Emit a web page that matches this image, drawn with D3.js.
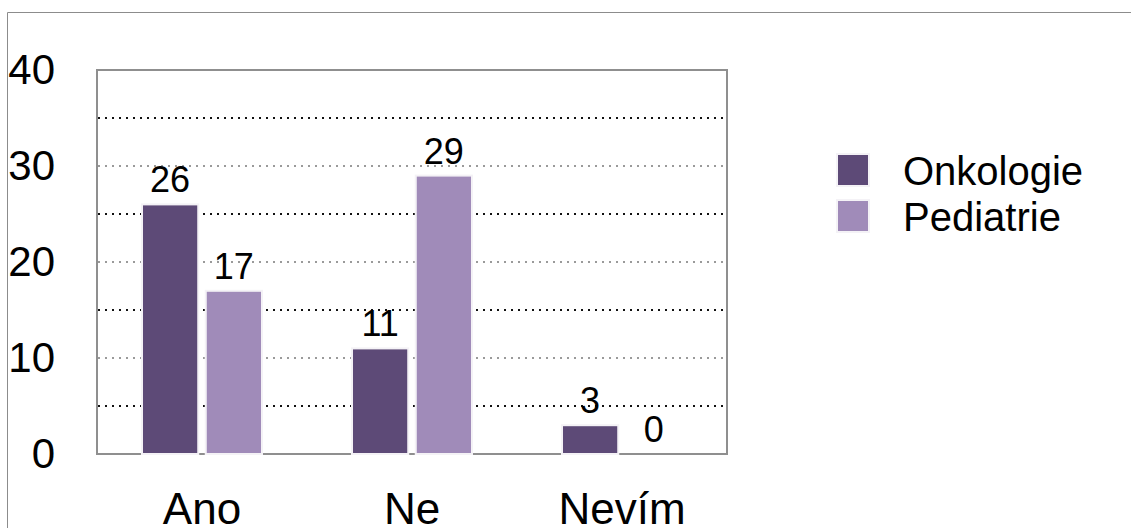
<!DOCTYPE html>
<html>
<head>
<meta charset="utf-8">
<script src="https://cdn.jsdelivr.net/npm/d3@7"></script>
<style>
  html, body { margin: 0; padding: 0; background: #fff; }
  svg { display: block; font-family: "Liberation Sans", Arial, Helvetica, sans-serif; }
</style>
</head>
<body>
<svg id="chart" width="1132" height="528"></svg>
<script>
// Survey answers by department
const categories = ["Ano", "Ne", "Nevím"];
const seriesNames = ["Onkologie", "Pediatrie"];
const onkologie = [26, 11, 3];
const pediatrie = [17, 29, 0];
const yTicks = [0, 10, 20, 30, 40];
const gridValues = [5, 10, 15, 20, 25, 30, 35];
const colors = ["#5d4a77", "#a08bb9"];

const series = [onkologie, pediatrie];
const rows = categories.map((c, i) => ({
  category: c,
  values: seriesNames.map((s, k) => ({ name: s, value: series[k][i], color: colors[k] }))
}));

const svg = d3.select("#chart");
const plot = { left: 97, right: 727, top: 70, bottom: 454 };

// outer frame (top and left edges)
svg.append("line").attr("x1", 7.5).attr("x2", 1131).attr("y1", 12.5).attr("y2", 12.5)
  .attr("stroke", "#8c8c8c").attr("stroke-width", 1);
svg.append("line").attr("x1", 7.5).attr("x2", 7.5).attr("y1", 12.5).attr("y2", 528)
  .attr("stroke", "#8c8c8c").attr("stroke-width", 1);

const y = d3.scaleLinear().domain([0, 40]).range([plot.bottom, plot.top]);
const x0 = d3.scaleBand().domain(categories).range([plot.left, plot.right])
  .paddingInner(0.4286).paddingOuter(0.2143);
const x1 = d3.scaleBand().domain(seriesNames).range([0, x0.bandwidth()])
  .paddingInner(0.118).paddingOuter(0);

// dotted grid: alternating dark and grey lines
svg.append("g").selectAll("line").data(gridValues).join("line")
  .attr("x1", plot.left + 1).attr("x2", plot.right - 1)
  .attr("y1", d => Math.round(y(d))).attr("y2", d => Math.round(y(d)))
  .attr("stroke", d => d % 10 === 0 ? "#9a9a9a" : "#111")
  .attr("stroke-width", 2)
  .attr("stroke-dasharray", "2,5");

// plot frame
svg.append("rect")
  .attr("x", plot.left).attr("y", plot.top)
  .attr("width", plot.right - plot.left).attr("height", plot.bottom - plot.top)
  .attr("fill", "none").attr("stroke", "#8f8f8f").attr("stroke-width", 2);

// y axis labels
const yAxis = d3.axisLeft(y).tickValues(yTicks).tickSize(0).tickPadding(0);
const yg = svg.append("g").attr("transform", "translate(55,0)").call(yAxis);
yg.select(".domain").remove();
yg.selectAll("text").attr("font-size", 42).attr("fill", "#000")
  .attr("font-family", "Liberation Sans, Arial, sans-serif");

// category labels
const xAxis = d3.axisBottom(x0).tickSize(0).tickPadding(0);
const xg = svg.append("g").attr("transform", "translate(0,493)").call(xAxis);
xg.select(".domain").remove();
xg.selectAll("text").attr("font-size", 44).attr("fill", "#000")
  .attr("font-family", "Liberation Sans, Arial, sans-serif");

// bars
const groups = svg.append("g").selectAll("g").data(rows).join("g")
  .attr("transform", d => `translate(${x0(d.category)},0)`);

groups.selectAll("rect").data(d => d.values.filter(v => v.value > 0)).join("rect")
  .attr("x", d => x1(d.name))
  .attr("y", d => y(d.value))
  .attr("width", x1.bandwidth())
  .attr("height", d => y(0) - y(d.value))
  .attr("fill", d => d.color)
  .attr("stroke", "#f4f2f6").attr("stroke-width", 2);

// value labels
groups.selectAll("text").data(d => d.values).join("text")
  .attr("x", d => x1(d.name) + x1.bandwidth() / 2)
  .attr("y", d => y(d.value) - 12)
  .attr("text-anchor", "middle")
  .attr("font-size", 36)
  .attr("fill", "#000")
  .text(d => d.value);

// legend
const legend = svg.append("g").selectAll("g").data(seriesNames).join("g")
  .attr("transform", (d, i) => `translate(837,${154 + i * 46})`);
legend.append("rect")
  .attr("width", 32).attr("height", 32)
  .attr("fill", (d, i) => colors[i])
  .attr("stroke", "#f4f2f6").attr("stroke-width", 2);
legend.append("text")
  .attr("x", 66).attr("y", 31)
  .attr("font-size", 40).attr("fill", "#000")
  .text(d => d);
</script>
</body>
</html>
